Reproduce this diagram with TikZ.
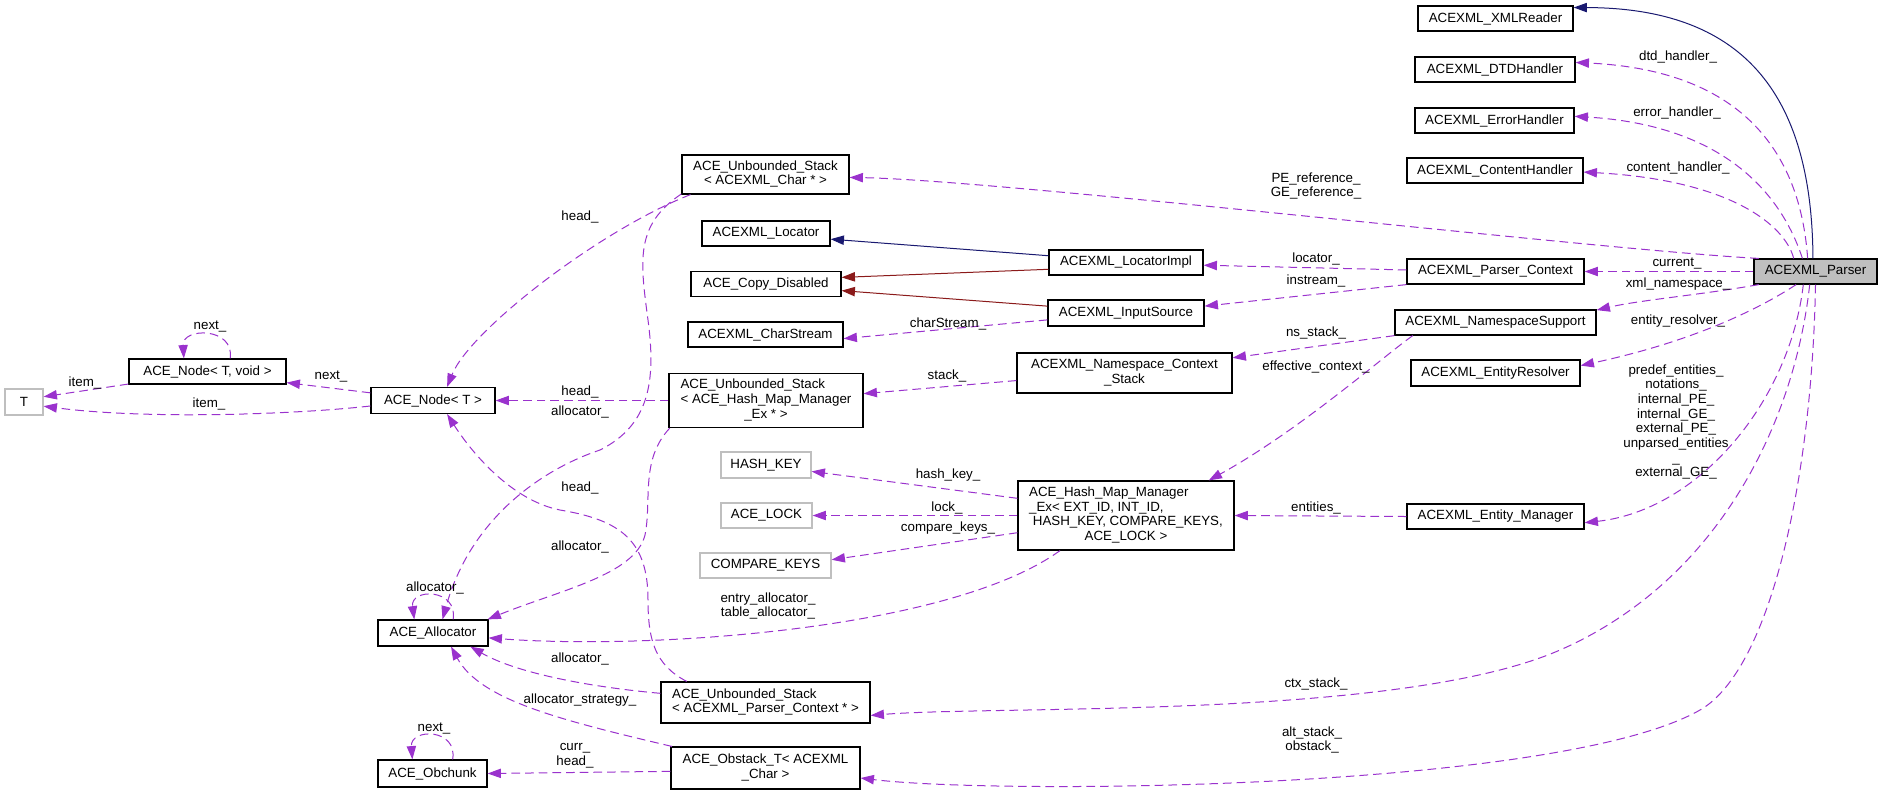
\documentclass[tikz,border=0pt]{standalone}
\usepackage{fontspec}
\setmainfont{Liberation Sans}
\usetikzlibrary{arrows.meta}
\definecolor{edgepurple}{HTML}{9A32CD}
\definecolor{inhnavy}{HTML}{191970}
\definecolor{inhred}{HTML}{8B1A1A}
\definecolor{boxgray}{HTML}{BFBFBF}
\begin{document}
\begin{tikzpicture}[x=0.75pt,y=-0.75pt,
  every node/.style={font=\fontsize{10pt}{11pt}\selectfont},
  cls/.style={draw=black, line width=0.9pt, inner sep=0pt},
  ext/.style={draw=boxgray, line width=0.9pt, inner sep=0pt},
  sz/.style 2 args={minimum width=#1*0.75pt, minimum height=#2*0.75pt},
  use/.style={draw=edgepurple, line width=0.75pt, dash pattern=on 6.5pt off 3.75pt,
    -{Triangle[length=10pt,width=7pt,fill=edgepurple]}},
  pub/.style={draw=inhnavy, line width=0.75pt, -{Triangle[length=10pt,width=7pt,fill=inhnavy]}},
  priv/.style={draw=inhred, line width=0.75pt, -{Triangle[length=10pt,width=7pt,fill=inhred]}},
  lbl/.style={inner sep=0pt, align=center}
]
\useasboundingbox (0,0) rectangle (1883,794);

% ---- right column
\node[cls, fill=boxgray, sz={123}{25}] (parser) at (1815.5,271.5) {ACEXML\_Parser};
\node[cls, sz={155}{25}] (xmlreader) at (1495.5,18.5) {ACEXML\_XMLReader};
\node[cls, sz={160}{25}] (dtd) at (1495,69.5) {ACEXML\_DTDHandler};
\node[cls, sz={159}{25}] (err) at (1494.5,120.5) {ACEXML\_ErrorHandler};
\node[cls, sz={176}{25}] (content) at (1495,170.5) {ACEXML\_ContentHandler};
\node[cls, sz={177}{25}] (pctx) at (1495.5,271.5) {ACEXML\_Parser\_Context};
\node[cls, sz={201}{25}] (nssup) at (1495.5,322.5) {ACEXML\_NamespaceSupport};
\node[cls, sz={169}{26}] (resolver) at (1495.5,373) {ACEXML\_EntityResolver};
\node[cls, sz={177}{25}] (emgr) at (1495.5,516.5) {ACEXML\_Entity\_Manager};

% ---- middle column
\node[cls, sz={154}{25}] (locimpl) at (1126,262.5) {ACEXML\_LocatorImpl};
\node[cls, sz={156}{26}] (input) at (1126,313) {ACEXML\_InputSource};
\node[cls, sz={215}{40}] (nsctx) at (1124.5,373) {\begin{tabular}{@{}l@{}}ACEXML\_Namespace\_Context\\\multicolumn{1}{@{}c@{}}{\_Stack}\end{tabular}};
\node[cls, sz={216}{69}] (hashmap) at (1126,515.5) {\begin{tabular}{@{}l@{}}ACE\_Hash\_Map\_Manager\\\_Ex< EXT\_ID, INT\_ID,\\\ HASH\_KEY, COMPARE\_KEYS,\\\multicolumn{1}{@{}c@{}}{ACE\_LOCK >}\end{tabular}};

% ---- left-middle column
\node[cls, sz={167}{39}] (ucs) at (765.5,174.5) {\begin{tabular}{@{}c@{}}ACE\_Unbounded\_Stack\\< ACEXML\_Char * >\end{tabular}};
\node[cls, sz={128}{25}] (locator) at (766,233.5) {ACEXML\_Locator};
\node[cls, sz={150}{25}] (copydis) at (766,284) {ACE\_Copy\_Disabled};
\node[cls, sz={155}{25}] (charstream) at (765.5,334.5) {ACEXML\_CharStream};
\node[cls, sz={194}{54}] (ushm) at (766,400.5) {\begin{tabular}{@{}l@{}}ACE\_Unbounded\_Stack\\< ACE\_Hash\_Map\_Manager\\\multicolumn{1}{@{}c@{}}{\_Ex * >}\end{tabular}};
\node[ext, sz={90}{26}] (hashkey) at (766,465) {HASH\_KEY};
\node[ext, sz={91}{25}] (acelock) at (766.5,515.5) {ACE\_LOCK};
\node[ext, sz={131}{25}] (cmpkeys) at (765.5,565.5) {COMPARE\_KEYS};
\node[cls, sz={209}{41}] (uspc) at (765.5,702.5) {\begin{tabular}{@{}l@{}}ACE\_Unbounded\_Stack\\\multicolumn{1}{@{}c@{}}{< ACEXML\_Parser\_Context * >}\end{tabular}};
\node[cls, sz={189}{42}] (obstack) at (765.5,768) {\begin{tabular}{@{}l@{}}ACE\_Obstack\_T< ACEXML\\\multicolumn{1}{@{}c@{}}{\_Char >}\end{tabular}};

% ---- left
\node[ext, sz={38}{26}] (T) at (24,402) {T};
\node[cls, sz={157}{25}] (nodetv) at (207.5,371.5) {ACE\_Node< T, void >};
\node[cls, sz={124}{26}] (nodet) at (433,400.5) {ACE\_Node< T >};
\node[cls, sz={110}{26}] (alloc) at (433,633) {ACE\_Allocator};
\node[cls, sz={109}{27}] (obchunk) at (432.5,773.5) {ACE\_Obchunk};

% ---- edges from ACEXML_Parser
\draw[pub] (parser.101) .. controls (1812,90) and (1740,8) .. (xmlreader.8);
\draw[use] (parser.121) .. controls (1800,150) and (1740,70) .. (dtd.5);
\draw[use] (parser.135) .. controls (1780,190) and (1720,125) .. (err.3);
\draw[use] (parser.149) .. controls (1785,225) and (1730,180) .. (content.-1);
\draw[use] (parser.167) .. controls (1600,250) and (1000,180) .. (ucs.-2);
\draw[use] (parser.west) -- (pctx.east);
\draw[use] (parser.193) .. controls (1700,295) and (1640,300) .. (nssup.7);
\draw[use] (parser.214) .. controls (1765,305) and (1700,340) .. (resolver.5);
\draw[use] (parser.227) .. controls (1790,400) and (1700,510) .. (emgr.-4);
\draw[use] (parser.246) .. controls (1795,420) and (1720,580) .. (1560,650)
  .. controls (1400,720) and (1000,705) .. (uspc.-7);
\draw[use] (parser.270) .. controls (1812,480) and (1770,670) .. (1700,710)
  .. controls (1560,790) and (1000,795) .. (obstack.-6);

% ---- middle edges
\draw[pub] (locimpl.175) -- (locator.-5);
\draw[priv] (locimpl.185) -- (copydis.5);
\draw[priv] (input.175) -- (copydis.-5);
\draw[use] (input.185) -- (charstream.-3);
\draw[use] (pctx.179) -- (locimpl.-2);
\draw[use] (pctx.south west) -- (input.5);
\draw[use] (nssup.south west) -- (nsctx.8);
\draw[use] (nssup.189) .. controls (1385,355) and (1300,430) .. (hashmap.23);
\draw[use] (nsctx.184) -- (ushm.4);
\draw[use] (emgr.west) -- (hashmap.east);
\draw[use] (hashmap.171) -- (hashkey.-8);
\draw[use] (hashmap.west) -- (acelock.east);
\draw[use] (hashmap.189) -- (cmpkeys.5);
\draw[use] (hashmap.208) .. controls (950,630) and (650,650) .. (alloc.-5);

% ---- left edges
\draw[use] (ushm.west) -- (nodet.east);
\draw[use] (ucs.195) .. controls (600,230) and (470,330) .. (nodet.44);
\draw[use] (ucs.193) .. controls (635,225) and (640,260) .. (648,320)
  .. controls (656,380) and (650,425) .. (600,450)
  .. controls (540,470) and (470,520) .. (alloc.55);
\draw[use] (ushm.196) .. controls (640,460) and (652,500) .. (645,535)
  .. controls (635,575) and (560,590) .. (alloc.14);
\draw[use] (uspc.165) .. controls (655,665) and (648,640) .. (648,600)
  .. controls (648,540) and (620,520) .. (560,510)
  .. controls (510,500) and (470,450) .. (nodet.-44);
\draw[use] (uspc.175) .. controls (600,688) and (520,675) .. (alloc.-20);
\draw[use] (obstack.167) .. controls (560,720) and (480,700) .. (alloc.-37);
\draw[use] (obstack.182) -- (obchunk.east);
\draw[use] (obchunk.35) .. controls (458,728) and (410,728) .. (obchunk.145);
\draw[use] (alloc.34) .. controls (458,588) and (410,588) .. (alloc.144);
\draw[use] (nodetv.30) .. controls (235,327) and (182,327) .. (nodetv.151);
\draw[use] (nodet.173) -- (nodetv.-8);
\draw[use] (nodetv.189) -- (T.15);
\draw[use] (nodet.185) .. controls (300,414) and (150,420) .. (T.-12);

% ---- labels
\node[lbl] (l1) at (1678,57) {dtd\_handler\_};
\node[lbl] (l2) at (1677,113) {error\_handler\_};
\node[lbl] (l3) at (1678,168) {content\_handler\_};
\node[lbl] (l4) at (1316,186) {PE\_reference\_\\GE\_reference\_};
\node[lbl] (l5) at (1677,264) {current\_};
\node[lbl] (l6) at (1678,284) {xml\_namespace\_};
\node[lbl] (l7) at (1678,321) {entity\_resolver\_};
\node[lbl] (l8) at (1676,422) {predef\_entities\_\\notations\_\\internal\_PE\_\\internal\_GE\_\\external\_PE\_\\unparsed\_entities\\\_\\external\_GE\_};
\node[lbl] (l9) at (1316,684) {ctx\_stack\_};
\node[lbl] (l10) at (1312,740) {alt\_stack\_\\obstack\_};
\node[lbl] (l11) at (1316,259) {locator\_};
\node[lbl] (l12) at (1316,281) {instream\_};
\node[lbl] (l13) at (1316,333) {ns\_stack\_};
\node[lbl] (l14) at (1316,367) {effective\_context\_};
\node[lbl] (l15) at (1316,508) {entities\_};
\node[lbl] (l16) at (948,324) {charStream\_};
\node[lbl] (l17) at (947,376) {stack\_};
\node[lbl] (l18) at (948,475) {hash\_key\_};
\node[lbl] (l19) at (947,508) {lock\_};
\node[lbl] (l20) at (948,528) {compare\_keys\_};
\node[lbl] (l21) at (580,217) {head\_};
\node[lbl] (l22) at (580,392) {head\_};
\node[lbl] (l23) at (580,412) {allocator\_};
\node[lbl] (l24) at (580,488) {head\_};
\node[lbl] (l25) at (580,547) {allocator\_};
\node[lbl] (l26) at (435,588) {allocator\_};
\node[lbl] (l27) at (768,606) {entry\_allocator\_\\table\_allocator\_};
\node[lbl] (l28) at (580,659) {allocator\_};
\node[lbl] (l29) at (580,700) {allocator\_strategy\_};
\node[lbl] (l30) at (434,728) {next\_};
\node[lbl] (l31) at (575,756) {curr\_\\head\_};
\node[lbl] (l32) at (210,327) {next\_};
\node[lbl] (l33) at (331,377) {next\_};
\node[lbl] (l34) at (85,383) {item\_};
\node[lbl] (l35) at (209,404) {item\_};
\end{tikzpicture}
\end{document}
